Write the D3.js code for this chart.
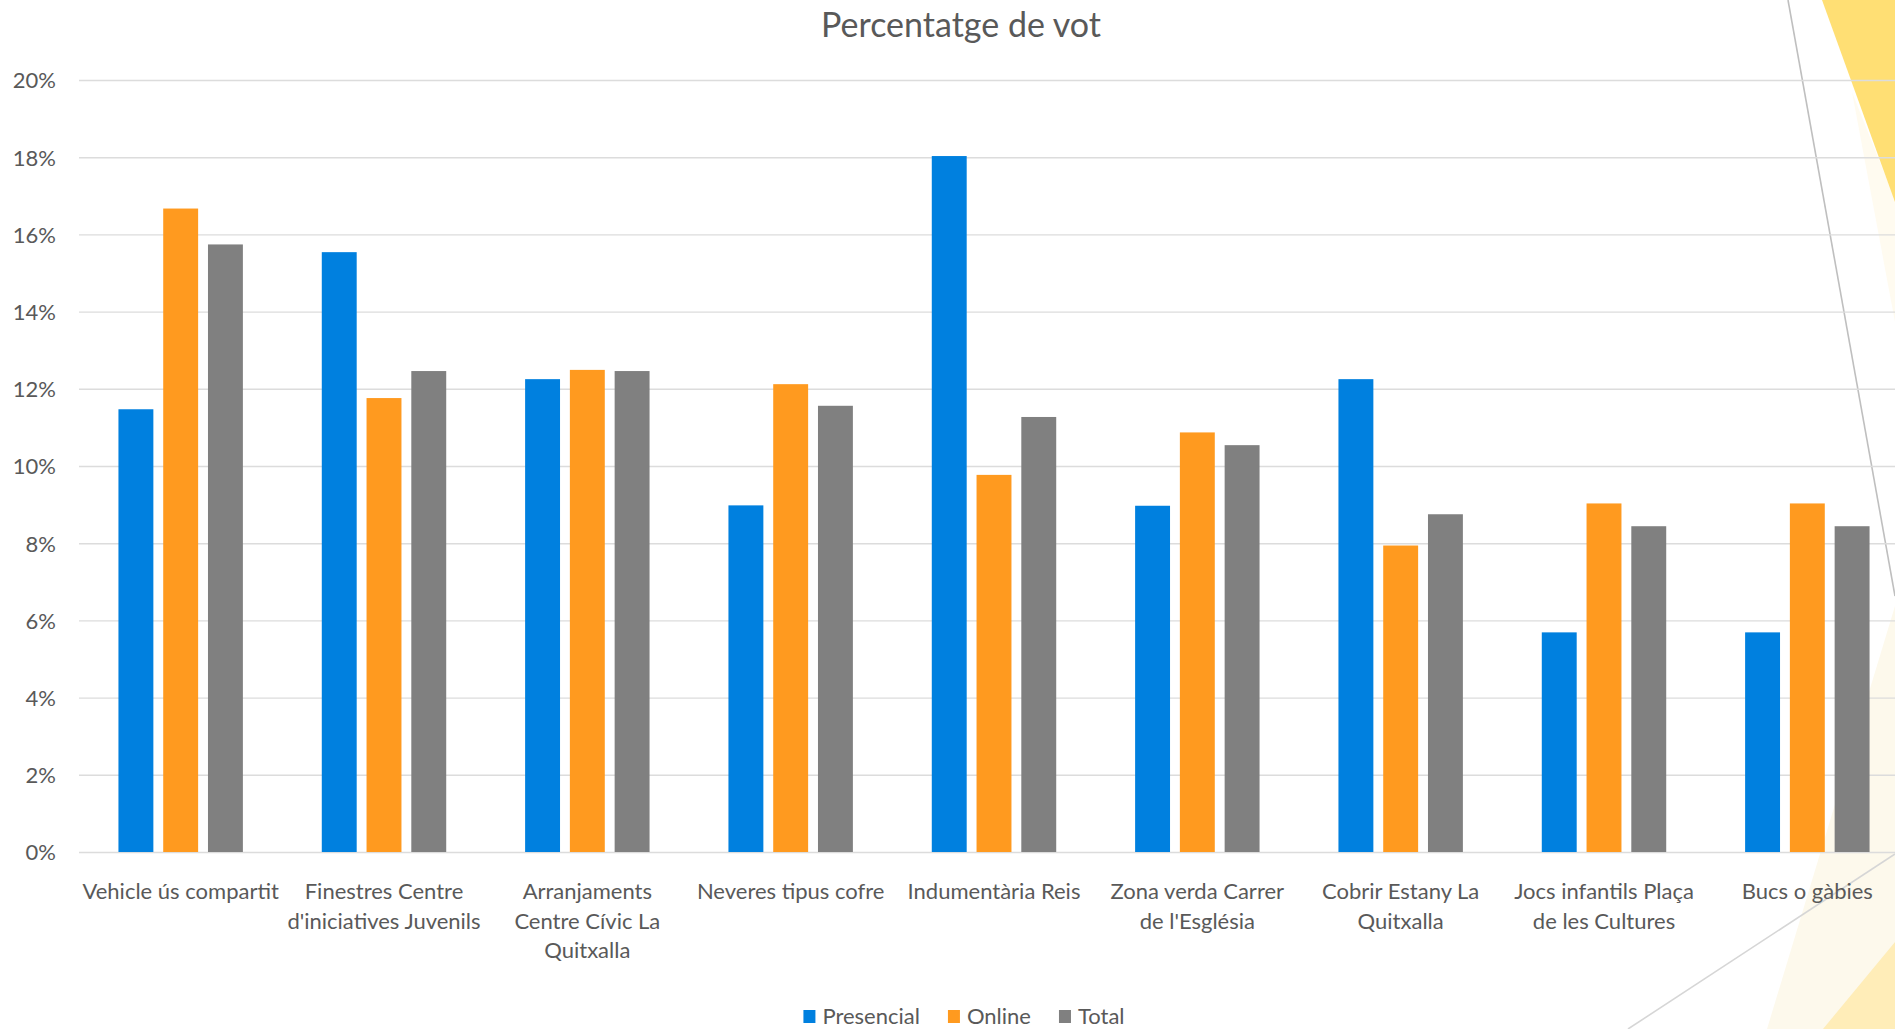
<!DOCTYPE html>
<html>
<head>
<meta charset="utf-8">
<script src="https://cdn.jsdelivr.net/npm/d3@7"></script>
<style>
  html, body { margin: 0; padding: 0; background: #ffffff; }
  svg { display: block; }
  text { font-family: Lato, "Open Sans", sans-serif; fill: #595959; }
</style>
</head>
<body>
<svg id="chart" width="1895" height="1029"></svg>
<script>
// ---------------- DATA ----------------
const title = "Percentatge de vot";
const categoryLabelLines = [
  ["Vehicle ús compartit"],
  ["Finestres Centre", "d'iniciatives Juvenils"],
  ["Arranjaments", "Centre Cívic La", "Quitxalla"],
  ["Neveres tipus cofre"],
  ["Indumentària Reis"],
  ["Zona verda Carrer", "de l'Església"],
  ["Cobrir Estany La", "Quitxalla"],
  ["Jocs infantils  Plaça", "de les Cultures"],
  ["Bucs o gàbies"]
];
const categories = categoryLabelLines.map(l => l.join(" "));
const seriesNames = ["Presencial", "Online", "Total"];
const presencial = [11.47, 15.54, 12.25, 8.98, 18.03, 8.97, 12.25, 5.69, 5.69];
const online     = [16.67, 11.76, 12.49, 12.12, 9.77, 10.87, 7.94, 9.03, 9.03];
const total      = [15.74, 12.46, 12.46, 11.56, 11.27, 10.54, 8.75, 8.44, 8.44];
const yTicks = [0, 2, 4, 6, 8, 10, 12, 14, 16, 18, 20];
const seriesColors = ["#0080DF", "#FF9A1F", "#808080"];

// ---------------- CHART ----------------
const svg = d3.select("#chart");

// slide decoration (background theme shapes)
const deco = svg.append("g");
deco.append("polygon").attr("points", "1852,92 1895,200 1895,322").attr("fill", "#FFFBF0");
deco.append("polygon").attr("points", "1895,606 1895,1029 1767,1029").attr("fill", "#FDF9EC");
deco.append("polygon").attr("points", "1822,0 1895,0 1895,202").attr("fill", "#FFDF74");
deco.append("polygon").attr("points", "1895,942 1895,1029 1823,1029").attr("fill", "#FFEDB8");
deco.append("line").attr("x1", 1788).attr("y1", 0).attr("x2", 1895).attr("y2", 596)
  .attr("stroke", "#BFBFBF").attr("stroke-width", 1.6);
deco.append("line").attr("x1", 1628).attr("y1", 1029).attr("x2", 1895).attr("y2", 854)
  .attr("stroke", "#D6D6D6").attr("stroke-width", 1.6);

const plot = { left: 79, right: 1909, top: 80, bottom: 852 };

const y = d3.scaleLinear().domain([0, 20]).range([plot.bottom, plot.top]);
const x0 = d3.scaleBand().domain(categories).range([plot.left, plot.right])
  .paddingInner(0.388).paddingOuter(0.194);
const x1 = d3.scaleBand().domain(seriesNames).range([0, x0.bandwidth()]).paddingInner(0.22);

// gridlines
const yAxis = d3.axisLeft(y).tickValues(yTicks)
  .tickSize(-(plot.right - plot.left)).tickFormat(d => d + "%").tickPadding(23);
const gy = svg.append("g").attr("transform", `translate(${plot.left},0)`).call(yAxis);
gy.select(".domain").remove();
gy.selectAll(".tick line").attr("stroke", "#DCDCDC").attr("stroke-width", 1.4);
gy.selectAll(".tick text").attr("font-size", 22).attr("fill", "#595959")
  .attr("dy", "0.36em").style("font-family", "Lato, sans-serif");

// bars
const seriesData = [presencial, online, total];
const groups = svg.append("g").selectAll("g").data(categories).join("g")
  .attr("transform", d => `translate(${x0(d)},0)`);
groups.selectAll("rect")
  .data((d, i) => seriesNames.map((s, k) => ({ s, k, v: seriesData[k][i] })))
  .join("rect")
  .attr("x", d => x1(d.s))
  .attr("width", x1.bandwidth())
  .attr("y", d => y(d.v))
  .attr("height", d => y(0) - y(d.v))
  .attr("fill", d => seriesColors[d.k]);

// x axis category labels
const xAxis = d3.axisBottom(x0).tickSize(0).tickFormat("");
const gx = svg.append("g").attr("transform", `translate(0,${plot.bottom})`).call(xAxis);
gx.select(".domain").remove();
gx.selectAll(".tick").each(function (d, i) {
  const t = d3.select(this).append("text")
    .attr("text-anchor", "middle").attr("font-size", 22).attr("fill", "#595959")
    .attr("y", 47);
  categoryLabelLines[i].forEach((line, j) => {
    t.append("tspan").attr("x", 0).attr("dy", j === 0 ? 0 : 29.5).text(line);
  });
});

// title
svg.append("text").attr("x", 961).attr("y", 37).attr("text-anchor", "middle")
  .attr("font-size", 34).attr("fill", "#595959").text(title);

// legend
const legend = svg.append("g");
let lx = 0;
seriesNames.forEach((s, k) => {
  const g = legend.append("g");
  g.append("rect").attr("x", 0).attr("y", -14).attr("width", 12).attr("height", 13)
    .attr("fill", seriesColors[k]);
  const t = g.append("text").attr("x", 19).attr("y", 0).attr("font-size", 22)
    .attr("fill", "#595959").text(s);
  g.attr("transform", `translate(${lx},0)`);
  lx += 19 + t.node().getComputedTextLength() + 28;
});
const legendWidth = lx - 28;
legend.attr("transform", `translate(${964 - legendWidth / 2},1024)`);
</script>
</body>
</html>
